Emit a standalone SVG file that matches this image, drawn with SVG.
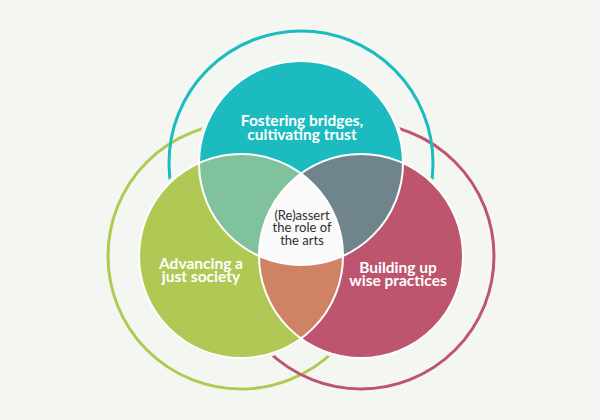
<svg xmlns="http://www.w3.org/2000/svg" width="600" height="420" viewBox="0 0 600 420">
  <style>
    .ring { fill: none; stroke-width: 3; }
    .halo { fill: #f4f6f1; stroke: #f4f6f1; stroke-width: 6; }
    .edge { fill: none; stroke: #ffffff; stroke-width: 2; }
    .lbl { font-family: Lato, "Open Sans", "Liberation Sans", sans-serif; font-weight: 700; font-size: 15.5px; fill: #ffffff; text-anchor: middle; }
    .ctr { font-family: Lato, "Open Sans", "Liberation Sans", sans-serif; font-size: 13px; fill: #2f2f2f; text-anchor: middle; }
  </style>
  <defs>
    <clipPath id="cTeal"><circle cx="301" cy="163" r="102"/></clipPath>
    <clipPath id="cGreen"><circle cx="241" cy="256" r="102"/></clipPath>
    <clipPath id="cPink"><circle cx="361" cy="256" r="102"/></clipPath>
  </defs>
  <rect width="600" height="420" fill="#f4f6f1"/>

  <g id="rings">
    <circle class="ring" cx="241" cy="256" r="133" stroke="#afc954"/>
    <circle class="ring" cx="361" cy="256" r="133" stroke="#bd556f"/>
    <circle class="ring" cx="301" cy="163" r="132" stroke="#1bbbbf"/>
  </g>

  <g id="halo">
    <circle class="halo" cx="301" cy="163" r="102"/>
    <circle class="halo" cx="241" cy="256" r="102"/>
    <circle class="halo" cx="361" cy="256" r="102"/>
  </g>

  <g id="teal">
    <circle cx="301" cy="163" r="102" fill="#1bbbbf"/>
    <text class="lbl" x="302" y="125.5">Fostering bridges,<tspan x="302" dy="14">cultivating trust</tspan></text>
  </g>
  <g id="green">
    <circle cx="241" cy="256" r="102" fill="#afc954"/>
    <text class="lbl" x="201" y="268.5">Advancing a<tspan x="201" dy="13.5">just society</tspan></text>
  </g>
  <g id="pink">
    <circle cx="361" cy="256" r="102" fill="#bd556f"/>
    <text class="lbl" x="398" y="272.5">Building up<tspan x="398" dy="13.5">wise practices</tspan></text>
  </g>

  <g id="overlaps">
    <g clip-path="url(#cGreen)"><circle cx="301" cy="163" r="102" fill="#80c29b"/></g>
    <g clip-path="url(#cPink)"><circle cx="301" cy="163" r="102" fill="#6f858b"/></g>
    <g clip-path="url(#cGreen)"><circle cx="361" cy="256" r="102" fill="#d08264"/></g>
  </g>

  <g id="center">
    <g clip-path="url(#cTeal)"><g clip-path="url(#cGreen)"><circle cx="361" cy="256" r="102" fill="#fafafa"/></g></g>
    <text class="ctr" x="302" y="219.5">(Re)assert<tspan x="302" dy="12.5">the role of</tspan><tspan x="302" dy="12.5">the arts</tspan></text>
  </g>

  <g id="edges">
    <circle class="edge" cx="301" cy="163" r="102"/>
    <circle class="edge" cx="241" cy="256" r="102"/>
    <circle class="edge" cx="361" cy="256" r="102"/>
  </g>
</svg>
